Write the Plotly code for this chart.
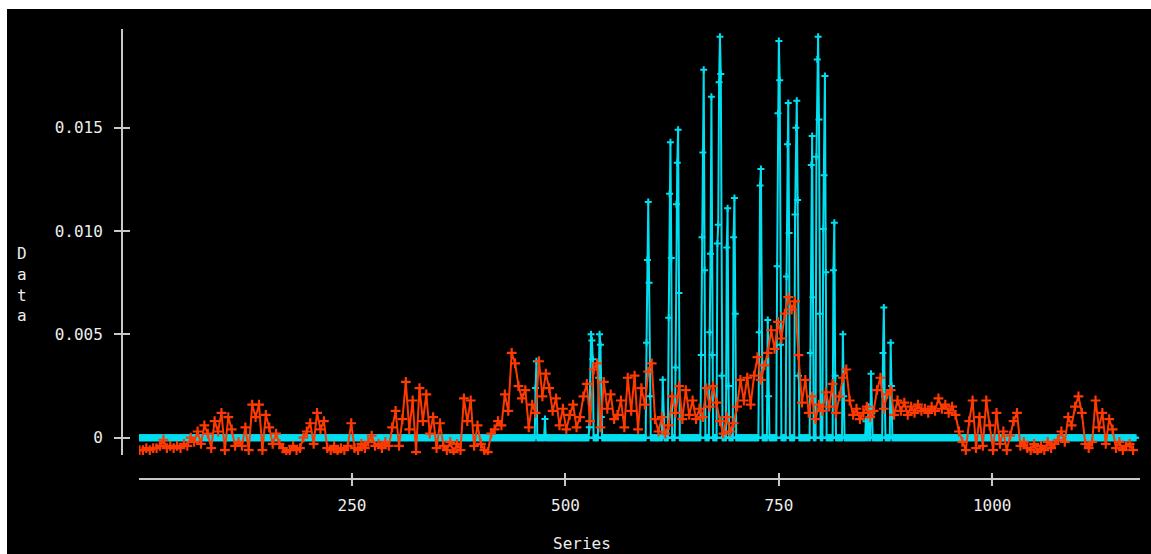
import plotly.graph_objects as go

# ---------------- data ----------------
# red series: sampled every 4 index units (index 1, 5, 9, ... 1165)
red_index = list(range(1, 1169, 4))
red_values = [
    -0.0006, -0.0006, -0.0005, -0.0006, -0.0005, -0.0005, -0.0004, -0.0001, -0.0005, -0.0004,
    -0.0005, -0.0004, -0.0005, -0.0003, -0.0004, 0.0000, -0.0002, 0.0003, -0.0003, 0.0006,
    0.0002, -0.0005, 0.0008, 0.0003, 0.0012, -0.0006, 0.0010, 0.0004, -0.0004, -0.0002,
    -0.0004, 0.0005, -0.0006, 0.0016, 0.0010, 0.0016, -0.0006, 0.0011, 0.0005, -0.0003,
    0.0002, -0.0003, -0.0005, -0.0007, -0.0006, -0.0004, -0.0006, -0.0005, 0.0000, 0.0003,
    0.0007, -0.0003, 0.0012, 0.0004, 0.0008, -0.0005, -0.0006, -0.0004, -0.0007, -0.0005,
    -0.0006, -0.0004, 0.0007, -0.0005, -0.0006, -0.0003, -0.0005, -0.0002, 0.0001, -0.0004,
    -0.0003, -0.0005, -0.0002, -0.0004, 0.0005, 0.0013, -0.0004, 0.0009, 0.0027, 0.0004,
    0.0018, -0.0007, 0.0024, 0.0008, 0.0021, 0.0002, 0.0010, -0.0005, 0.0007, -0.0004,
    -0.0006, -0.0002, -0.0007, -0.0003, -0.0006, 0.0019, 0.0008, 0.0018, -0.0004, 0.0006,
    -0.0003, -0.0006, -0.0007, 0.0002, 0.0004, 0.0008, 0.0006, 0.0021, 0.0013, 0.0041,
    0.0036, 0.0025, 0.0019, 0.0023, 0.0005, 0.0016, 0.0012, 0.0037, 0.0020, 0.0031,
    0.0024, 0.0013, 0.0019, 0.0006, 0.0014, 0.0004, 0.0011, 0.0016, 0.0005, 0.0010,
    0.0020, 0.0026, 0.0008, 0.0033, 0.0036, 0.0005, 0.0027, 0.0014, 0.0021, 0.0009,
    0.0011, 0.0018, 0.0005, 0.0029, 0.0013, 0.0030, 0.0004, 0.0024, 0.0016, 0.0032,
    0.0036, 0.0009, 0.0003, 0.0010, 0.0002, 0.0006, 0.0020, 0.0012, 0.0025, 0.0009,
    0.0023, 0.0011, 0.0018, 0.0009, 0.0014, 0.0010, 0.0024, 0.0015, 0.0025, 0.0017,
    0.0008, 0.0002, 0.0010, 0.0003, 0.0007, 0.0015, 0.0028, 0.0018, 0.0029, 0.0016,
    0.0030, 0.0039, 0.0028, 0.0035, 0.0041, 0.0052, 0.0043, 0.0056, 0.0048, 0.0060,
    0.0068, 0.0062, 0.0066, 0.0040, 0.0017, 0.0028, 0.0012, 0.0020, 0.0009, 0.0016,
    0.0013, 0.0022, 0.0015, 0.0026, 0.0012, 0.0020, 0.0029, 0.0033, 0.0018, 0.0011,
    0.0014, 0.0009, 0.0012, 0.0015, 0.0010, 0.0013, 0.0023, 0.0029, 0.0014, 0.0021,
    0.0023, 0.0011, 0.0018, 0.0013, 0.0017, 0.0011, 0.0015, 0.0012, 0.0016, 0.0013,
    0.0014, 0.0012, 0.0015, 0.0013, 0.0019, 0.0014, 0.0016, 0.0012, 0.0015, 0.0011,
    0.0003, -0.0002, -0.0006, 0.0008, 0.0018, -0.0005, 0.0010, -0.0004, 0.0018, 0.0006,
    -0.0006, 0.0012, -0.0003, 0.0003, -0.0006, 0.0001, 0.0008, 0.0012, -0.0004, -0.0002,
    -0.0005, -0.0006, -0.0003, -0.0007, -0.0004, -0.0006, -0.0002, -0.0005, -0.0003, -0.0001,
    0.0003, -0.0002, 0.0010, 0.0006, 0.0015, 0.0020, 0.0012, -0.0003, -0.0005, -0.0002,
    0.0018, 0.0005, 0.0012, -0.0003, 0.0009, 0.0004, -0.0005, -0.0002, -0.0006, -0.0004,
    -0.0003, -0.0006,
]

# cyan series: every index 1..1168, zero except at these spikes
cyan_count = 1168
spike_index = [
    465, 466, 476,
    528, 529, 530, 531, 532, 539, 540, 541, 542,
    595, 596, 597, 598, 599, 614, 615,
    621, 622, 623, 624, 629, 630, 631, 632, 633,
    659, 660, 661, 662, 663, 669, 670, 671, 672,
    678, 679, 680, 681, 682, 683, 689, 690, 691, 697, 698, 699,
    727, 728, 729, 730, 737, 738,
    748, 749, 750, 751, 752, 759, 760, 761, 762,
    769, 770, 771, 772, 773, 787, 788, 789, 790,
    794, 795, 796, 797, 798, 802, 803, 804, 805,
    814, 815, 816, 825, 826,
    852, 855, 858, 859, 872, 873, 874, 881, 882,
]
spike_value = [
    0.0024, 0.0037, 0.0009,
    0.0005, 0.0026, 0.0050, 0.0047, 0.0038, 0.0029, 0.0050, 0.0045, 0.0010,
    0.0046, 0.0086, 0.0114, 0.0075, 0.0020, 0.0028, 0.0010,
    0.0058, 0.0118, 0.0143, 0.0087, 0.0034, 0.0113, 0.0133, 0.0149, 0.0070,
    0.0040, 0.0097, 0.0138, 0.0178, 0.0081, 0.0051, 0.0089, 0.0165, 0.0040,
    0.0094, 0.0103, 0.0172, 0.0194, 0.0176, 0.0030, 0.0092, 0.0111, 0.0025, 0.0097, 0.0116, 0.0060,
    0.0051, 0.0122, 0.0130, 0.0035, 0.0057, 0.0020,
    0.0083, 0.0157, 0.0192, 0.0173, 0.0045, 0.0078, 0.0142, 0.0162, 0.0099,
    0.0108, 0.0150, 0.0163, 0.0115, 0.0030, 0.0041, 0.0132, 0.0146, 0.0068,
    0.0136, 0.0183, 0.0194, 0.0154, 0.0060, 0.0101, 0.0127, 0.0175, 0.0080,
    0.0081, 0.0104, 0.0030, 0.0050, 0.0020,
    0.0008, 0.0015, 0.0031, 0.0012, 0.0041, 0.0063, 0.0020, 0.0046, 0.0025,
]

x_ticks = [250, 500, 750, 1000]
x_tick_text = ["250", "500", "750", "1000"]
y_ticks = [0, 0.005, 0.010, 0.015]
y_tick_text = ["0", "0.005", "0.010", "0.015"]
x_title = "Series"
y_title = "Data"

# build the full cyan series
cyan_index = list(range(1, cyan_count + 1))
cyan_values = [0.0] * cyan_count
for i, v in zip(spike_index, spike_value):
    cyan_values[i - 1] = v

# ---------------- layout constants ----------------
W, H = 1151, 554
CYAN = "#00DEF0"
RED = "#FF3A00"
AXIS = "#C8C8C8"
TEXT = "#EDEDED"
FONT = "DejaVu Sans Mono"

x_dom = [139 / W, 1140 / W]
y_dom = [(H - 455) / H, (H - 29) / H]
x_pos = (H - 479) / H
y_pos = 122 / W
x_rng = [0.4, 1173.1]
y_rng = [-0.000837, 0.019776]

fig = go.Figure()

fig.add_trace(go.Scatter(
    x=cyan_index, y=cyan_values, mode="lines+markers",
    line=dict(color=CYAN, width=2),
    marker=dict(symbol="cross-thin", size=5, line=dict(color=CYAN, width=2)),
    hoverinfo="skip",
))
fig.add_trace(go.Scatter(
    x=red_index, y=red_values, mode="lines+markers",
    line=dict(color=RED, width=2),
    marker=dict(symbol="cross-thin", size=7, line=dict(color=RED, width=2.2)),
    hoverinfo="skip",
))
# empty trace to hold the overlay axes that draw the inner half of tick marks
fig.add_trace(go.Scatter(x=[], y=[], xaxis="x2", yaxis="y2", hoverinfo="skip"))

axis_common = dict(showgrid=False, zeroline=False, automargin=False)

fig.update_layout(
    width=W, height=H,
    margin=dict(l=0, r=0, t=0, b=0),
    paper_bgcolor="white",
    plot_bgcolor="black",
    showlegend=False,
    font=dict(family=FONT, color=TEXT, size=16),
    xaxis=dict(
        domain=x_dom, anchor="free", position=x_pos, range=x_rng,
        showline=True, linecolor=AXIS, linewidth=2,
        ticks="outside", ticklen=6, tickwidth=2, tickcolor=AXIS,
        tickvals=x_ticks, ticktext=x_tick_text, ticklabelstandoff=6,
        tickfont=dict(family=FONT, color=TEXT, size=16),
        **axis_common,
    ),
    yaxis=dict(
        domain=y_dom, anchor="free", position=y_pos, range=y_rng,
        showline=True, linecolor=AXIS, linewidth=2,
        ticks="outside", ticklen=7, tickwidth=2, tickcolor=AXIS,
        tickvals=y_ticks, ticktext=y_tick_text, ticklabelstandoff=8,
        tickfont=dict(family=FONT, color=TEXT, size=16),
        **axis_common,
    ),
    xaxis2=dict(
        domain=x_dom, anchor="free", position=x_pos, range=x_rng, overlaying="x",
        showline=False, ticks="inside", ticklen=6, tickwidth=2, tickcolor=AXIS,
        tickvals=x_ticks, showticklabels=False, **axis_common,
    ),
    yaxis2=dict(
        domain=y_dom, anchor="free", position=y_pos, range=y_rng, overlaying="y",
        showline=False, ticks="inside", ticklen=7, tickwidth=2, tickcolor=AXIS,
        tickvals=y_ticks, showticklabels=False, **axis_common,
    ),
    shapes=[dict(
        type="rect", xref="paper", yref="paper",
        x0=7 / W, x1=1.0, y0=0.0, y1=(H - 9) / H,
        fillcolor="black", line=dict(width=0), layer="below",
    )],
    annotations=[
        dict(text=x_title, xref="paper", yref="paper", x=582 / W, y=(H - 543) / H,
             showarrow=False, xanchor="center", yanchor="middle",
             font=dict(family=FONT, color=TEXT, size=16)),
        dict(text="<br>".join(list(y_title)), xref="paper", yref="paper",
             x=22 / W, y=(H - 284) / H, showarrow=False,
             xanchor="center", yanchor="middle", align="center",
             font=dict(family=FONT, color=TEXT, size=16)),
    ],
)

fig.write_html("out.html")
